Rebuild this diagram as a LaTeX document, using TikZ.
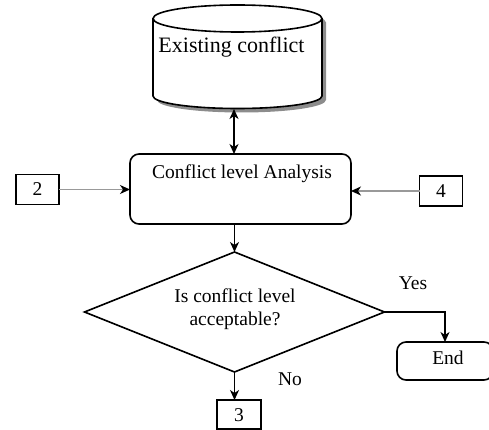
\documentclass[tikz,border=0pt]{standalone}
\usepackage{fontspec}
\setmainfont{Liberation Serif}
\usetikzlibrary{arrows.meta,shapes.geometric,calc}
\begin{document}
\begin{tikzpicture}[x=1pt,y=-1pt,
  every node/.style={inner sep=0pt,outer sep=0pt},
  shp/.style={draw=black,line width=1.6pt,fill=white},
  conn/.style={line width=1.6pt,-{Stealth[length=10pt,width=9pt,inset=3pt]}},
  conn2/.style={line width=1.6pt,{Stealth[length=10pt,width=9pt,inset=3pt]}-{Stealth[length=10pt,width=9pt,inset=3pt]}},
  gconn/.style={draw=black!40,line width=1.3pt,-{Stealth[length=10pt,width=9pt,inset=3pt,color=black]}},
  txt/.style={font=\fontsize{19.5}{22}\selectfont,anchor=base},
  numbox/.style={shp,minimum width=43pt,minimum height=30pt}
]
\useasboundingbox (0,0) rectangle (489,430);
% cylinder shadow
\fill[black!45] (157,22.5) -- (157,100) arc[start angle=180,end angle=360,x radius=84.5pt,y radius=12.5pt] -- (326,22.5) arc[start angle=0,end angle=180,x radius=84.5pt,y radius=13.5pt] -- cycle;
% cylinder
\draw[shp] (153,18.5) -- (153,96) arc[start angle=180,end angle=360,x radius=84.5pt,y radius=12.5pt] -- (322,18.5) arc[start angle=0,end angle=180,x radius=84.5pt,y radius=13.5pt] -- cycle;
\draw[line width=1.6pt] (153,18.5) arc[start angle=180,end angle=360,x radius=84.5pt,y radius=13.5pt];
\node[font=\fontsize{22}{24}\selectfont,anchor=base] (cyltext) at (231.5,53) {Existing conflict};
\coordinate (cylbot) at (234,109);
% process
\node[shp,rounded corners=9pt,minimum width=221pt,minimum height=70pt] (proc) at (240.5,189) {};
\node[txt] (proctext) at (242,179) {Conflict level Analysis};
% side boxes
\node[numbox] (b2) at (37.5,189.5) {};
\node[txt] at (37.5,196) {2};
\node[numbox] (b4) at (441,191) {};
\node[txt] at (441,197.5) {4};
% diamond
\node[shp,diamond,minimum width=300pt,minimum height=120pt] (dia) at (234.5,312) {};
\node[txt] (q1) at (235,302.5) {Is conflict level};
\node[txt] (q2) at (235,325) {acceptable?};
% end
\node[shp,rounded corners=9pt,minimum width=96pt,minimum height=38pt] (endb) at (445,361) {};
\node[txt] at (448,364) {End};
% box 3
\node[numbox,minimum width=44pt,minimum height=29pt] (b3) at (239,414.5) {};
\node[txt] at (239,421) {3};
% connectors
\draw[conn2] (cylbot) -- (cylbot |- proc.north);
\draw[conn] (proc.south -| dia.north) -- (dia.north);
\draw[gconn] (b2.east) -- (b2.east -| proc.west);
\draw[gconn] (b4.west) -- (b4.west -| proc.east);
\draw[conn] (dia.east) -| (endb.north);
\draw[conn] (dia.south) -- (dia.south |- b3.north);
\node[txt] at (413,289) {Yes};
\node[txt] at (290,385) {No};
\end{tikzpicture}
\end{document}
